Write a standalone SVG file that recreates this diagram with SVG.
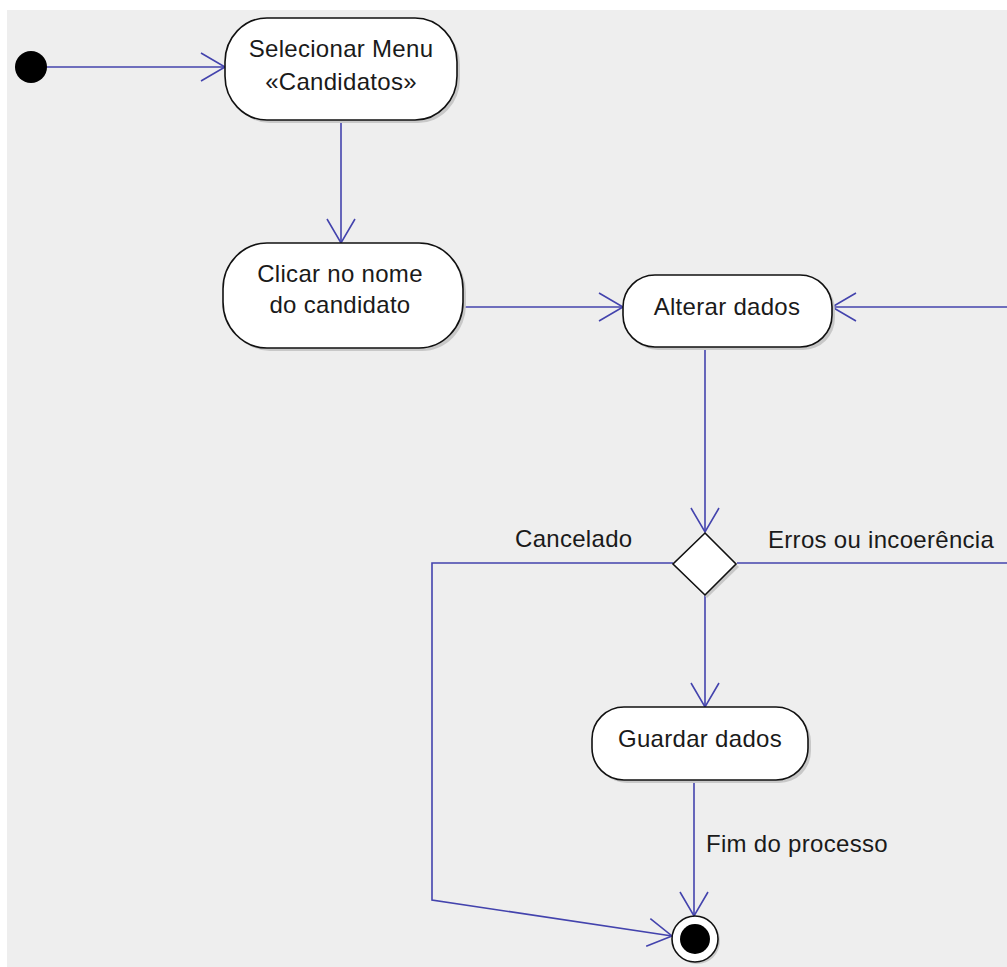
<svg xmlns="http://www.w3.org/2000/svg" width="1007" height="967" viewBox="0 0 1007 967">
<style>
.bg{fill:#eeeeee}
.act{fill:#ffffff;stroke:#111111;stroke-width:1.6}
.shadow{fill:#c8c8c8}
.t{font-family:"Liberation Sans",Arial,sans-serif;font-size:24px;letter-spacing:0.3px;fill:#1a1a1a}
.c{text-anchor:middle}
.edge{fill:none;stroke:#4343ad;stroke-width:1.6}
</style>
<defs>
<marker id="arr" markerUnits="userSpaceOnUse" markerWidth="40" markerHeight="40" viewBox="-30 -20 40 40" refX="0" refY="0" orient="auto">
<path d="M-24,-14 L0,0 L-24,14" fill="none" stroke="#4343ad" stroke-width="1.6"/>
</marker>
</defs>
<rect x="0" y="0" width="1007" height="967" fill="#ffffff"/>
<rect class="bg" x="7" y="10" width="1000" height="957"/>

<g id="connectors">
<path class="edge" d="M47,67 L225,67" marker-end="url(#arr)"/>
<path class="edge" d="M341,120 L341,243" marker-end="url(#arr)"/>
<path class="edge" d="M463,307 L623,307" marker-end="url(#arr)"/>
<path class="edge" d="M1007,307 L832,307" marker-end="url(#arr)"/>
<path class="edge" d="M705,347 L705,532" marker-end="url(#arr)"/>
<path class="edge" d="M737,563 L1007,563"/>
<path class="edge" d="M673,563 L432,563 L432,900 L672,936" marker-end="url(#arr)"/>
<path class="edge" d="M705,595 L705,707" marker-end="url(#arr)"/>
<path class="edge" d="M694,780 L694,916" marker-end="url(#arr)"/>
<text class="t" x="515" y="547">Cancelado</text>
<text class="t" x="768" y="548">Erros ou incoerência</text>
<text class="t" x="706" y="852">Fim do processo</text>
</g>

<g id="start">
<circle cx="31" cy="67" r="16" fill="#000000"/>
</g>

<g id="selecionar">
<rect class="shadow" x="228" y="21" width="232" height="102" rx="42" ry="44"/>
<rect class="act" x="225" y="18" width="232" height="102" rx="42" ry="44"/>
<text class="t c" x="341" y="57">Selecionar Menu</text>
<text class="t c" x="341" y="90">«Candidatos»</text>
</g>

<g id="clicar">
<rect class="shadow" x="226" y="246" width="240" height="105" rx="44" ry="46"/>
<rect class="act" x="223" y="243" width="240" height="105" rx="44" ry="46"/>
<text class="t c" x="340" y="282">Clicar no nome</text>
<text class="t c" x="340" y="313">do candidato</text>
</g>

<g id="alterar">
<rect class="shadow" x="626" y="278" width="209" height="72" rx="32" ry="32"/>
<rect class="act" x="623" y="275" width="209" height="72" rx="32" ry="32"/>
<text class="t c" x="727" y="315">Alterar dados</text>
</g>

<g id="decisao">
<path class="shadow" d="M707,536 L739,567 L707,598 L676,567 Z"/>
<path class="act" d="M705,533 L736,564 L705,595 L673,564 Z"/>
</g>

<g id="guardar">
<rect class="shadow" x="595" y="710" width="216" height="73" rx="32" ry="32"/>
<rect class="act" x="592" y="707" width="216" height="73" rx="32" ry="32"/>
<text class="t c" x="700" y="747">Guardar dados</text>
</g>

<g id="fim">
<circle cx="697" cy="941" r="23" fill="#c8c8c8"/>
<circle cx="695" cy="939" r="23" fill="#ffffff" stroke="#111111" stroke-width="1.6"/>
<circle cx="695" cy="939" r="15" fill="#000000"/>
</g>
</svg>
